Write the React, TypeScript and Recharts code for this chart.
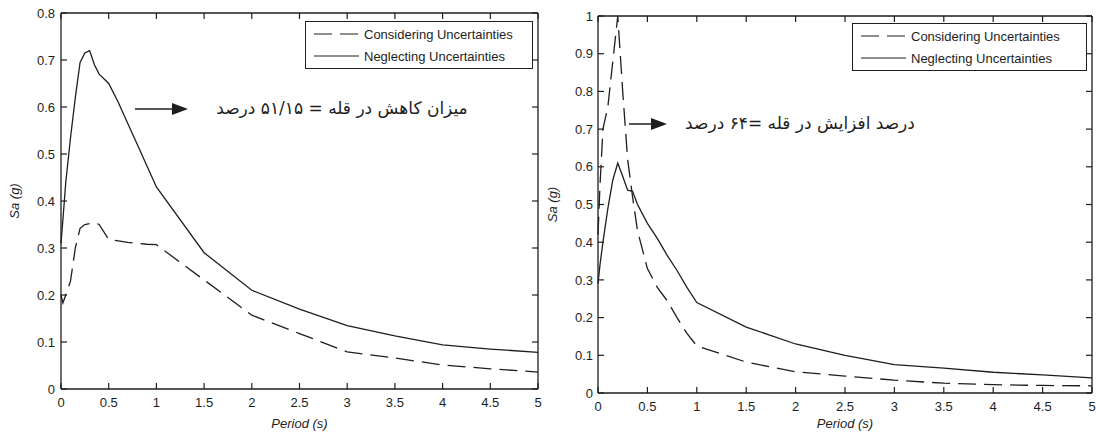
import { Legend, Line, LineChart, ReferenceLine, XAxis, YAxis } from "recharts";

// Period (s) shared by every curve
const periods = [0, 0.02, 0.05, 0.1, 0.15, 0.2, 0.25, 0.3, 0.35, 0.4, 0.5, 0.6, 0.7, 0.8, 0.9, 1, 1.5, 2, 2.5, 3, 3.5, 4, 4.5, 5];

// left panel: Sa (g)
const leftConsidering = [0.2, 0.183, 0.2, 0.23, 0.3, 0.342, 0.35, 0.352, 0.354, 0.35, 0.318, 0.315, 0.312, 0.31, 0.308, 0.307, 0.232, 0.157, 0.118, 0.079, 0.066, 0.051, 0.043, 0.036];
const leftNeglecting = [0.31, 0.36, 0.44, 0.535, 0.62, 0.695, 0.715, 0.72, 0.69, 0.67, 0.65, 0.61, 0.565, 0.52, 0.475, 0.43, 0.29, 0.21, 0.17, 0.135, 0.113, 0.094, 0.085, 0.078];

// right panel: Sa (g)
const rightConsidering = [0.42, 0.55, 0.7, 0.76, 0.88, 1.0, 0.8, 0.62, 0.52, 0.43, 0.33, 0.28, 0.245, 0.2, 0.158, 0.125, 0.082, 0.056, 0.045, 0.034, 0.026, 0.022, 0.02, 0.019];
const rightNeglecting = [0.29, 0.34, 0.4, 0.49, 0.565, 0.61, 0.575, 0.538, 0.535, 0.5, 0.45, 0.41, 0.365, 0.325, 0.28, 0.24, 0.175, 0.13, 0.1, 0.075, 0.066, 0.055, 0.048, 0.04];

const xTicks = [0, 0.5, 1, 1.5, 2, 2.5, 3, 3.5, 4, 4.5, 5];
const leftYTicks = [0, 0.1, 0.2, 0.3, 0.4, 0.5, 0.6, 0.7, 0.8];
const rightYTicks = [0, 0.1, 0.2, 0.3, 0.4, 0.5, 0.6, 0.7, 0.8, 0.9, 1];

const seriesNames = ["Considering Uncertainties", "Neglecting Uncertainties"];

const leftNote = "میزان کاهش در قله = ۵۱/۱۵ درصد";
const rightNote = "درصد افزایش در قله =۶۴ درصد";

const INK = "#1e1e1e";
const FONT = "'Liberation Sans', Arial, sans-serif";
const DASH = "18 8";
const TICK_PX = 6;
const H = 434;

const buildRows = (a: number[], b: number[]) =>
  periods.map((t, i) => ({ t, considering: a[i], neglecting: b[i] }));

const LegendBox = ({ payload }: any) => (
  <div
    style={{
      border: `1px solid ${INK}`,
      background: "#fff",
      padding: "1px 0 1px 8px",
      fontFamily: FONT,
      fontSize: 13,
      color: INK,
    }}
  >
    {(payload || []).map((e: any) => (
      <div key={e.value} style={{ display: "flex", alignItems: "center", height: 22 }}>
        <svg width={45} height={8}>
          <line x1={0} y1={4} x2={45} y2={4} stroke={INK} strokeWidth={1.2} strokeDasharray={e.payload?.strokeDasharray} />
        </svg>
        <span style={{ marginLeft: 5, whiteSpace: "nowrap" }}>{e.value}</span>
      </div>
    ))}
  </div>
);

const yTitle = (x: number) => (props: any) => {
  const vb = props.viewBox || {};
  const cy = vb.y + vb.height / 2;
  return (
    <text
      x={x}
      y={cy}
      transform={`rotate(-90 ${x} ${cy})`}
      textAnchor="middle"
      dominantBaseline="middle"
      fontFamily={FONT}
      fontSize={13}
      fontStyle="italic"
      fill={INK}
    >
      Sa (g)
    </text>
  );
};

function Panel({
  left,
  width,
  rows,
  yMax,
  yTicks,
  plotTop,
  yAxisWidth,
  rightWidth,
  xAxisHeight,
  tickGap,
  titleX,
  legendLeft,
  legendTop,
  legendWidth,
  arrow,
  note,
}: {
  left: number;
  width: number;
  rows: { t: number; considering: number; neglecting: number }[];
  yMax: number;
  yTicks: number[];
  plotTop: number;
  yAxisWidth: number;
  rightWidth: number;
  xAxisHeight: number;
  tickGap: number;
  titleX: number;
  legendLeft: number;
  legendTop: number;
  legendWidth: number;
  arrow: { x1: number; x2: number; y: number };
  note: { x: number; y: number; text: string };
}) {
  const axisLine = { stroke: INK, strokeWidth: 1.3 };
  const tickLine = { stroke: INK, strokeWidth: 1.2 };
  const tickStyle = { fontSize: 13, fill: INK, fontFamily: FONT };
  // tick length on the top and right edges, in data units
  const dy = (yMax * TICK_PX) / (H - plotTop - xAxisHeight);
  const dx = (5 * TICK_PX) / (width - yAxisWidth - rightWidth);
  return (
    <div style={{ position: "absolute", left, top: 0, width, height: H }}>
      <LineChart width={width} height={H} data={rows} margin={{ top: plotTop, right: rightWidth, bottom: 0, left: 0 }}>
        <XAxis
          dataKey="t"
          type="number"
          domain={[0, 5]}
          ticks={xTicks}
          height={xAxisHeight}
          tick={tickStyle}
          axisLine={axisLine}
          tickLine={tickLine}
          tickSize={-TICK_PX}
          tickMargin={9 + TICK_PX}
          interval={0}
          label={{ value: "Period (s)", position: "insideBottom", offset: 6, fontSize: 13, fontStyle: "italic", fill: INK, fontFamily: FONT }}
        />
        <YAxis
          type="number"
          domain={[0, yMax]}
          ticks={yTicks}
          width={yAxisWidth}
          tick={tickStyle}
          axisLine={axisLine}
          tickLine={tickLine}
          tickSize={-TICK_PX}
          tickMargin={tickGap + TICK_PX}
          interval={0}
          label={{ content: yTitle(titleX) }}
        />
        {/* box frame: top and right edges, with inward ticks */}
        <ReferenceLine y={yMax} stroke={INK} strokeWidth={1.3} />
        <ReferenceLine x={5} stroke={INK} strokeWidth={1.3} />
        {xTicks.map((t) => (
          <ReferenceLine key={`t${t}`} segment={[{ x: t, y: yMax - dy }, { x: t, y: yMax }]} stroke={INK} strokeWidth={1.2} />
        ))}
        {yTicks.map((v) => (
          <ReferenceLine key={`r${v}`} segment={[{ x: 5 - dx, y: v }, { x: 5, y: v }]} stroke={INK} strokeWidth={1.2} />
        ))}
        <Legend
          layout="vertical"
          align="center"
          verticalAlign="middle"
          content={<LegendBox />}
          wrapperStyle={{ top: legendTop, left: legendLeft, width: legendWidth, bottom: "auto", right: "auto" }}
        />
        <Line
          dataKey="considering"
          name={seriesNames[0]}
          type="linear"
          stroke={INK}
          strokeWidth={1.3}
          strokeDasharray={DASH}
          dot={false}
          isAnimationActive={false}
        />
        <Line
          dataKey="neglecting"
          name={seriesNames[1]}
          type="linear"
          stroke={INK}
          strokeWidth={1.3}
          dot={false}
          isAnimationActive={false}
        />
      </LineChart>
      <svg width={width} height={H} style={{ position: "absolute", left: 0, top: 0, pointerEvents: "none" }}>
        <line x1={arrow.x1} y1={arrow.y} x2={arrow.x2 - 14} y2={arrow.y} stroke={INK} strokeWidth={1.5} />
        <polygon
          points={`${arrow.x2 - 16},${arrow.y - 6} ${arrow.x2},${arrow.y} ${arrow.x2 - 16},${arrow.y + 6}`}
          fill={INK}
        />
        <text
          x={note.x}
          y={note.y}
          textAnchor="middle"
          dominantBaseline="middle"
          direction="rtl"
          fontFamily="'DejaVu Sans', sans-serif"
          fontSize={17}
          fill={INK}
        >
          {note.text}
        </text>
      </svg>
    </div>
  );
}

export default function App() {
  return (
    <div style={{ position: "absolute", left: 0, top: 0, width: 1096, height: H, background: "#fff" }}>
      <Panel
        left={0}
        width={545}
        rows={buildRows(leftConsidering, leftNeglecting)}
        yMax={0.8}
        yTicks={leftYTicks}
        plotTop={13}
        yAxisWidth={61}
        rightWidth={7}
        xAxisHeight={45}
        tickGap={6}
        titleX={16}
        legendLeft={305}
        legendTop={21}
        legendWidth={228}
        arrow={{ x1: 135, x2: 188, y: 109 }}
        note={{ x: 342, y: 109, text: leftNote }}
      />
      <Panel
        left={545}
        width={551}
        rows={buildRows(rightConsidering, rightNeglecting)}
        yMax={1}
        yTicks={rightYTicks}
        plotTop={16}
        yAxisWidth={53}
        rightWidth={4}
        xAxisHeight={41}
        tickGap={5}
        titleX={9}
        legendLeft={307}
        legendTop={23}
        legendWidth={235}
        arrow={{ x1: 84, x2: 122, y: 124 }}
        note={{ x: 255, y: 124, text: rightNote }}
      />
    </div>
  );
}
